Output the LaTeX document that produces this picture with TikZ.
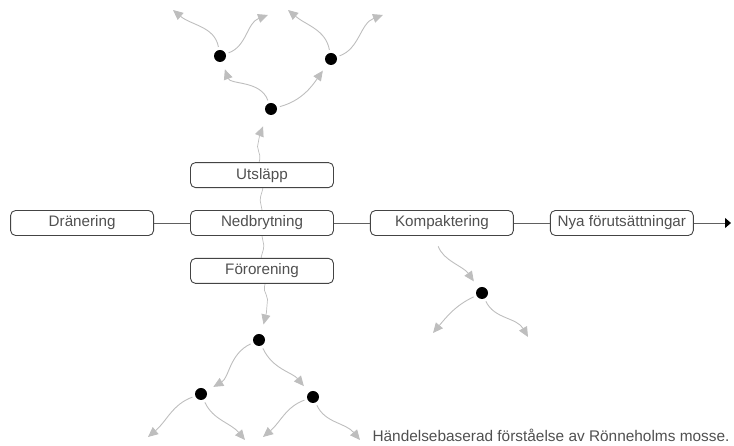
\documentclass[tikz,border=0pt]{standalone}
\usepackage{fontspec}
\setmainfont{Liberation Sans}
\usetikzlibrary{positioning, arrows.meta, decorations.pathmorphing, backgrounds}
\definecolor{boxline}{HTML}{444444}
\definecolor{boxtext}{HTML}{505050}
\definecolor{twig}{HTML}{BEBEBE}
\tikzstyle{evt}=[draw=boxline,line width=0.9pt,rounded corners=5pt,fill=white,minimum width=143pt,minimum height=25pt,inner sep=2pt,text=boxtext,font=\fontsize{15.2}{18}\selectfont]
\tikzstyle{dot}=[circle,fill=black,minimum size=12pt,inner sep=0pt]
\tikzstyle{brn}=[twig,line width=0.9pt,-{Triangle[length=10pt,width=9pt]},shorten <=3pt]
\tikzstyle{wig}=[twig,line width=0.7pt,decorate,decoration={snake,amplitude=1.8pt,segment length=30pt,post length=22pt}]

\begin{document}
\begin{tikzpicture}[x=1pt,y=1pt]
\useasboundingbox (0,0) rectangle (734,446);
% chain of events
\node[evt] (ned) at (262,223) {Nedbrytning};
\node[evt,left=36pt of ned] (dran) {Dränering};
\node[evt,right=36pt of ned] (komp) {Kompaktering};
\node[evt,right=36pt of komp] (nya) {Nya förutsättningar};
\node[evt,above=22pt of ned] (utsl) {Utsläpp};
\node[evt,below=22pt of ned] (foro) {Förorening};
\coordinate (end) at (731,223);
\draw[boxline!85,line width=0.9pt] (dran) -- (ned) (ned) -- (komp) (komp) -- (nya);
\draw[boxline!85,line width=0.9pt,-{Triangle[length=6pt,width=10pt,color=black]}] (nya) -- (end);
% branching points
\node[dot] (a) at (271,337) {};
\node[dot] (b) at (220,390) {};
\node[dot] (c) at (331,387) {};
\node[dot] (k) at (482,153) {};
\node[dot] (d) at (259,106) {};
\node[dot] (e) at (201,52) {};
\node[dot] (f) at (313,49) {};
\foreach \n/\x/\y in {bl/173/436, br/268/431, cl/288/436, cr/383/431, kl/433/113, kr/528/109, el/148/9, er/245/6, fl/263/9, fr/360/6}
  \coordinate (\n) at (\x,\y);
\begin{scope}[on background layer]
  \draw[wig,-{Triangle[length=10pt,width=9pt]},shorten >=13pt] (ned.north) to[out=90,in=-120] (a);
  \draw[wig,-{Triangle[length=10pt,width=9pt]},shorten >=10pt] (ned.south) to[out=-90,in=70] (d);
\end{scope}
\foreach \s/\t/\o/\i/\sh in {a/b/110/-70/8, a/c/15/-125/8, b/bl/100/-40/0, b/br/20/-160/0, c/cl/100/-40/0, c/cr/20/-160/0,
    k/kl/205/50/0, k/kr/-65/120/0, d/e/205/30/8, d/f/-65/130/8, e/el/200/40/0, e/er/-65/130/0, f/fl/200/40/0, f/fr/-65/130/0}
  \draw[brn,shorten >=\sh pt] (\s) to[out=\o,in=\i] (\t);
\draw[brn,shorten <=11pt,shorten >=8pt] (komp.240) to[out=-70,in=125] (k);
% caption
\node[anchor=base east,text=boxtext,font=\fontsize{15.4}{18}\selectfont] (cap) at (733,4) {Händelsebaserad förståelse av Rönneholms mosse.};
\end{tikzpicture}
\end{document}
